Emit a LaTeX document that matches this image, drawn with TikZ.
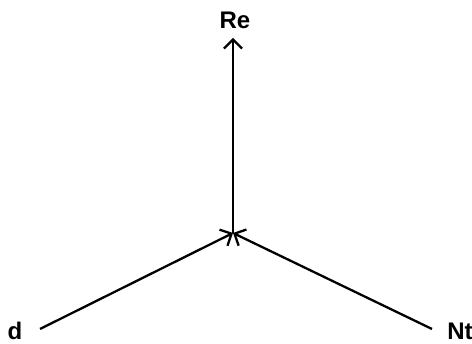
\documentclass[tikz,border=0pt]{standalone}
\usepackage{fontspec}
\setmainfont{Liberation Sans}
\usetikzlibrary{arrows.meta}
\begin{document}
\begin{tikzpicture}[x=1pt,y=1pt,
  lbl/.style={font=\bfseries\fontsize{24}{28}\selectfont, inner sep=0pt},
  conn/.style={line width=2.3pt, -{Straight Barb[length=9pt,width=18pt,line width=2.3pt]}}]
\useasboundingbox (0,0) rectangle (472,344);
\coordinate (c) at (233,111);
\coordinate (top) at (233,306);
\coordinate (l) at (40,15);
\coordinate (r) at (432,15);
\node[lbl] (re) at (235,324) {Re};
\node[lbl] (d) at (15,13) {d};
\node[lbl] (nt) at (460,13) {Nt};
\draw[conn] (c) -- (top);
\draw[conn] (l) -- (c);
\draw[conn] (r) -- (c);
\end{tikzpicture}
\end{document}
